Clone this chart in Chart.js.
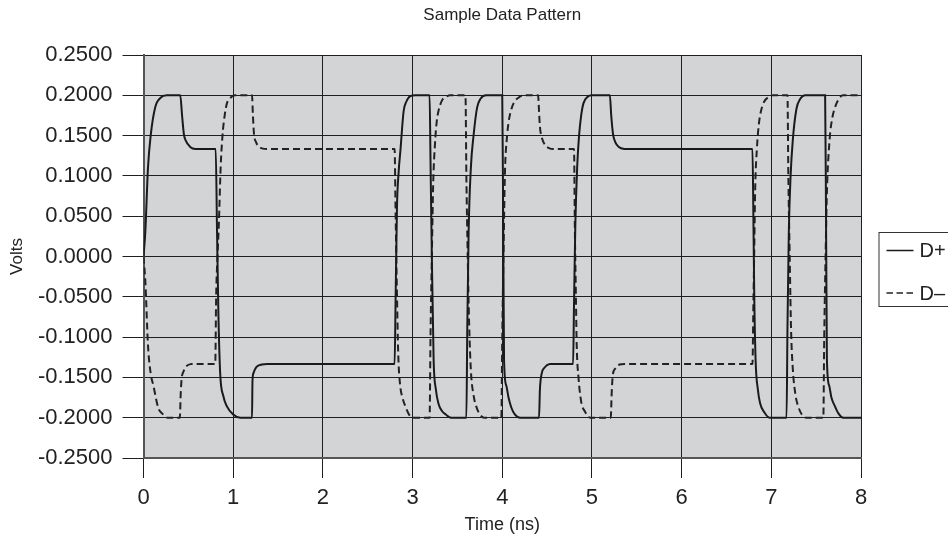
<!DOCTYPE html>
<html>
<head>
<meta charset="utf-8">
<title>Sample Data Pattern</title>
<script src="https://cdn.jsdelivr.net/npm/chart.js@4"></script>
<style>
  html, body { margin: 0; padding: 0; background: #fff; overflow: hidden; }
  canvas { display: block; }
</style>
</head>
<body>
<canvas id="pattern-chart" width="948" height="538"></canvas>
<script>
// tick values for both axes
const timeTicks = [0, 1, 2, 3, 4, 5, 6, 7, 8];
const voltTicks = [-0.25, -0.2, -0.15, -0.1, -0.05, 0, 0.05, 0.1, 0.15, 0.2, 0.25];

// D+ trace, [time ns, volts]
const dPlus = [
  [0, 0], [0.02, 0.03], [0.05, 0.11], [0.08, 0.15], [0.13, 0.185], [0.19, 0.197], [0.26, 0.2],
  [0.41, 0.2], [0.43, 0.175], [0.45, 0.152], [0.47, 0.144], [0.52, 0.136], [0.58, 0.1335],
  [0.805, 0.1333], [0.82, 0.03], [0.835, -0.07], [0.855, -0.145], [0.89, -0.173], [0.93, -0.186], [1.0, -0.196], [1.08, -0.2],
  [1.21, -0.2], [1.215, -0.155], [1.225, -0.145], [1.26, -0.137], [1.32, -0.134], [1.38, -0.1333],
  [2.8, -0.1333], [2.81, -0.06], [2.826, 0.06], [2.845, 0.105], [2.865, 0.132], [2.9, 0.18], [2.93, 0.192], [2.975, 0.199], [3.03, 0.2],
  [3.19, 0.2], [3.2, 0.12], [3.215, 0.0], [3.235, -0.129], [3.26, -0.165], [3.29, -0.183], [3.33, -0.192], [3.37, -0.196], [3.43, -0.2],
  [3.6, -0.2], [3.61, -0.09], [3.625, 0.03], [3.65, 0.11], [3.68, 0.15], [3.72, 0.185], [3.76, 0.196], [3.82, 0.2],
  [4.0, 0.2], [4.01, 0.05], [4.02, -0.129], [4.045, -0.16], [4.07, -0.175], [4.1, -0.187], [4.14, -0.196], [4.2, -0.2],
  [4.41, -0.2], [4.42, -0.165], [4.44, -0.145], [4.47, -0.138], [4.53, -0.1335], [4.58, -0.1333],
  [4.79, -0.1333], [4.8, -0.06], [4.815, 0.04], [4.835, 0.11], [4.855, 0.148], [4.88, 0.175], [4.905, 0.19], [4.95, 0.198], [5.0, 0.2],
  [5.2, 0.2], [5.215, 0.175], [5.235, 0.152], [5.26, 0.142], [5.3, 0.136], [5.36, 0.1335], [5.4, 0.1333],
  [6.79, 0.1333], [6.8, 0.05], [6.81, -0.05], [6.825, -0.129], [6.85, -0.165], [6.875, -0.182], [6.92, -0.193], [6.98, -0.2],
  [7.17, -0.2], [7.18, -0.09], [7.195, 0.03], [7.215, 0.1], [7.24, 0.145], [7.28, 0.183], [7.32, 0.195], [7.38, 0.2],
  [7.6, 0.2], [7.61, 0.05], [7.62, -0.129], [7.645, -0.16], [7.67, -0.175], [7.71, -0.186], [7.75, -0.195], [7.8, -0.2],
  [8, -0.2],
];

// D- trace
const dMinus = [
  [0, 0], [0.02, -0.03], [0.05, -0.11], [0.08, -0.145], [0.11, -0.16], [0.165, -0.188], [0.21, -0.195], [0.27, -0.2],
  [0.405, -0.2], [0.415, -0.17], [0.425, -0.152], [0.445, -0.143], [0.48, -0.136], [0.53, -0.1335], [0.57, -0.1333],
  [0.8, -0.1333], [0.81, -0.05], [0.825, 0.0], [0.84, 0.04], [0.86, 0.11], [0.88, 0.149], [0.905, 0.175], [0.93, 0.19], [0.97, 0.197], [1.02, 0.2],
  [1.21, 0.2], [1.22, 0.175], [1.232, 0.152], [1.255, 0.142], [1.28, 0.137], [1.33, 0.1338], [1.38, 0.1333],
  [2.8, 0.1333], [2.81, 0.06], [2.825, -0.04], [2.84, -0.12], [2.86, -0.158], [2.89, -0.176], [2.92, -0.186], [2.96, -0.196], [3.0, -0.2],
  [3.19, -0.2], [3.2, -0.1], [3.215, 0.0], [3.23, 0.09], [3.25, 0.14], [3.27, 0.168], [3.29, 0.181], [3.33, 0.194], [3.36, 0.197], [3.42, 0.2],
  [3.59, 0.2], [3.6, 0.1], [3.615, 0.0], [3.63, -0.08], [3.65, -0.141], [3.68, -0.172], [3.71, -0.186], [3.75, -0.196], [3.8, -0.2],
  [3.99, -0.2], [4.0, -0.1], [4.015, 0.01], [4.03, 0.104], [4.05, 0.145], [4.07, 0.166], [4.09, 0.178], [4.13, 0.191], [4.18, 0.197], [4.24, 0.2],
  [4.4, 0.2], [4.41, 0.18], [4.42, 0.161], [4.44, 0.148], [4.48, 0.138], [4.52, 0.1345], [4.57, 0.1333],
  [4.8, 0.1333], [4.81, 0.03], [4.82, -0.04], [4.83, -0.109], [4.85, -0.15], [4.88, -0.18], [4.92, -0.192], [4.98, -0.2],
  [5.21, -0.2], [5.22, -0.17], [5.232, -0.148], [5.26, -0.139], [5.31, -0.134], [5.36, -0.1333],
  [6.79, -0.1333], [6.8, -0.06], [6.81, 0.01], [6.82, 0.083], [6.84, 0.135], [6.86, 0.163], [6.88, 0.178], [6.92, 0.192], [6.97, 0.198], [7.02, 0.2],
  [7.18, 0.2], [7.19, 0.1], [7.205, 0.0], [7.22, -0.09], [7.24, -0.14], [7.27, -0.172], [7.3, -0.186], [7.34, -0.196], [7.39, -0.2],
  [7.58, -0.2], [7.59, -0.1], [7.605, 0.0], [7.62, 0.08], [7.65, 0.145], [7.68, 0.172], [7.71, 0.185], [7.75, 0.195], [7.8, 0.2],
  [8, 0.2],
];

const FONT = '"Liberation Sans", Arial, Helvetica, sans-serif';
const INK = '#222';
const GRID = '#1f1f1f';

// gray plot area behind the grid
const plotBackground = {
  id: 'plotBackground',
  beforeDraw(chart) {
    const { ctx, chartArea: a } = chart;
    ctx.save();
    ctx.fillStyle = '#fff';
    ctx.fillRect(0, 0, chart.width, chart.height);
    ctx.fillStyle = '#d3d4d6';
    ctx.fillRect(a.left, a.top, a.right - a.left, a.bottom - a.top);
    ctx.restore();
  },
};

// boxed legend to the right of the plot, like the original
const boxLegend = {
  id: 'boxLegend',
  afterDraw(chart) {
    const { ctx, chartArea: a } = chart;
    const left = a.right + 17.5;
    const top = a.top + 177;
    ctx.save();
    ctx.strokeStyle = '#333';
    ctx.lineWidth = 1;
    ctx.strokeRect(left + 0.5, top + 0.5, 120, 74);
    ctx.font = '20px ' + FONT;
    ctx.textBaseline = 'middle';
    chart.data.datasets.forEach((ds, i) => {
      const y = top + 18.5 + i * 42.5;
      ctx.beginPath();
      ctx.setLineDash(ds.borderDash && ds.borderDash.length ? [6.5, 3.5] : []);
      ctx.strokeStyle = ds.borderColor;
      ctx.lineWidth = 1.5;
      ctx.moveTo(left + 8, y);
      ctx.lineTo(left + 35, y);
      ctx.stroke();
      ctx.setLineDash([]);
      ctx.fillStyle = INK;
      ctx.fillText(ds.label, left + 41, y + 1);
    });
    ctx.restore();
  },
};

const ctx = document.getElementById('pattern-chart');

const chart = new Chart(ctx, {
  type: 'line',
  data: {
    datasets: [
      {
        label: 'D+',
        data: dPlus.map(([x, y]) => ({ x, y })),
        borderColor: '#1a1a1a',
        borderWidth: 2,
        pointRadius: 0,
        cubicInterpolationMode: 'monotone',
        fill: false,
      },
      {
        label: 'D\u2013',
        data: dMinus.map(([x, y]) => ({ x, y })),
        borderColor: '#222',
        borderWidth: 2,
        borderDash: [7, 4],
        pointRadius: 0,
        cubicInterpolationMode: 'monotone',
        fill: false,
      },
    ],
  },
  options: {
    responsive: false,
    animation: false,
    devicePixelRatio: 1,
    layout: { padding: { left: 0, right: 87, top: 0, bottom: 0 } },
    plugins: {
      legend: { display: false },
      tooltip: { enabled: false },
      title: {
        display: true,
        text: 'Sample Data Pattern',
        fullSize: false,
        color: INK,
        font: { family: FONT, size: 17, weight: 'normal' },
        padding: { top: 4.8, bottom: 29.8 },
      },
    },
    scales: {
      x: {
        type: 'linear',
        min: 0,
        max: 8,
        afterBuildTicks: (axis) => { axis.ticks = timeTicks.map((v) => ({ value: v })); },
        afterFit: (axis) => { axis.height = 80; axis.paddingLeft = 0; axis.paddingRight = 0; },
        grid: { color: GRID, lineWidth: 1, tickLength: 20, tickColor: GRID },
        border: { display: true, color: '#555', width: 2 },
        ticks: {
          color: INK,
          padding: 7,
          maxRotation: 0,
          font: { family: FONT, size: 22 },
          callback: (v) => String(v),
        },
        title: {
          display: true,
          text: 'Time (ns)',
          color: INK,
          font: { family: FONT, size: 18 },
          padding: { top: 4, bottom: 2.2 },
        },
      },
      y: {
        type: 'linear',
        min: -0.25,
        max: 0.25,
        afterBuildTicks: (axis) => { axis.ticks = voltTicks.map((v) => ({ value: v })); },
        afterFit: (axis) => { axis.width = 143.5; axis.paddingTop = 0; axis.paddingBottom = 0; },
        grid: { color: GRID, lineWidth: 1, tickLength: 21, tickColor: GRID },
        border: { display: true, color: '#555', width: 2 },
        ticks: {
          color: INK,
          padding: 10,
          font: { family: FONT, size: 22 },
          callback: (v) => v.toFixed(4),
        },
        title: {
          display: true,
          text: 'Volts',
          color: INK,
          font: { family: FONT, size: 17 },
          padding: { top: 7.3, bottom: 4 },
        },
      },
    },
  },
  plugins: [plotBackground, boxLegend],
});
</script>
</body>
</html>
